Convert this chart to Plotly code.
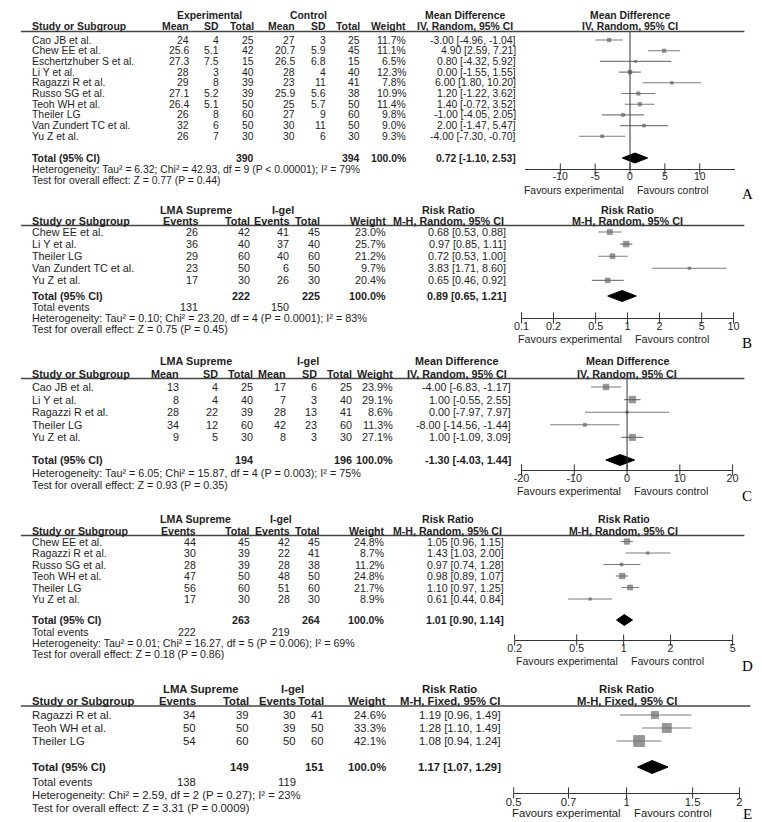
import math
import plotly.graph_objects as go

W, H = 762, 822

# ====================== DATA ======================
# Panel A - Mean Difference (Experimental vs Control)
A_studies = ["Cao JB et al.", "Chew EE et al.", "Eschertzhuber S et al.", "Li Y et al.",
             "Ragazzi R et al.", "Russo SG et al.", "Teoh WH et al.", "Theiler LG",
             "Van Zundert TC et al.", "Yu Z et al."]
A_mean_e = [24, 25.6, 27.3, 28, 29, 27.1, 26.4, 26, 32, 26]
A_sd_e = [4, 5.1, 7.5, 3, 8, 5.2, 5.1, 8, 6, 7]
A_n_e = [25, 42, 15, 40, 39, 39, 50, 60, 50, 30]
A_mean_c = [27, 20.7, 26.5, 28, 23, 25.9, 25, 27, 30, 30]
A_sd_c = [3, 5.9, 6.8, 4, 11, 5.6, 5.7, 9, 11, 6]
A_n_c = [25, 45, 15, 40, 41, 38, 50, 60, 50, 30]
A_weight = [11.7, 11.1, 6.5, 12.3, 7.8, 10.9, 11.4, 9.8, 9.0, 9.3]
A_est = [-3.00, 4.90, 0.80, 0.00, 6.00, 1.20, 1.40, -1.00, 2.00, -4.00]
A_lo = [-4.96, 2.59, -4.32, -1.55, 1.80, -1.22, -0.72, -4.05, -1.47, -7.30]
A_hi = [-1.04, 7.21, 5.92, 1.55, 10.20, 3.62, 3.52, 2.05, 5.47, -0.70]
A_total_n = [390, 394]
A_total = [0.72, -1.10, 2.53]
A_het = "Heterogeneity: Tau² = 6.32; Chi² = 42.93, df = 9 (P < 0.00001); I² = 79%"
A_test = "Test for overall effect: Z = 0.77 (P = 0.44)"
A_ticks = [-10, -5, 0, 5, 10]
A_range = [-15, 15]

# Panel B - Risk Ratio (LMA Supreme vs I-gel)
B_studies = ["Chew EE et al.", "Li Y et al.", "Theiler LG", "Van Zundert TC et al.", "Yu Z et al."]
B_ev_e = [26, 36, 29, 23, 17]
B_n_e = [42, 40, 60, 50, 30]
B_ev_c = [41, 37, 40, 6, 26]
B_n_c = [45, 40, 60, 50, 30]
B_weight = [23.0, 25.7, 21.2, 9.7, 20.4]
B_est = [0.68, 0.97, 0.72, 3.83, 0.65]
B_lo = [0.53, 0.85, 0.53, 1.71, 0.46]
B_hi = [0.88, 1.11, 1.00, 8.60, 0.92]
B_total_n = [222, 225]
B_total_events = [131, 150]
B_total = [0.89, 0.65, 1.21]
B_het = "Heterogeneity: Tau² = 0.10; Chi² = 23.20, df = 4 (P = 0.0001); I² = 83%"
B_test = "Test for overall effect: Z = 0.75 (P = 0.45)"
B_ticks = [0.1, 0.2, 0.5, 1, 2, 5, 10]
B_range = [0.1, 10]

# Panel C - Mean Difference (LMA Supreme vs I-gel)
C_studies = ["Cao JB et al.", "Li Y et al.", "Ragazzi R et al.", "Theiler LG", "Yu Z et al."]
C_mean_e = [13, 8, 28, 34, 9]
C_sd_e = [4, 4, 22, 12, 5]
C_n_e = [25, 40, 39, 60, 30]
C_mean_c = [17, 7, 28, 42, 8]
C_sd_c = [6, 3, 13, 23, 3]
C_n_c = [25, 40, 41, 60, 30]
C_weight = [23.9, 29.1, 8.6, 11.3, 27.1]
C_est = [-4.00, 1.00, 0.00, -8.00, 1.00]
C_lo = [-6.83, -0.55, -7.97, -14.56, -1.09]
C_hi = [-1.17, 2.55, 7.97, -1.44, 3.09]
C_total_n = [194, 196]
C_total = [-1.30, -4.03, 1.44]
C_het = "Heterogeneity: Tau² = 6.05; Chi² = 15.87, df = 4 (P = 0.003); I² = 75%"
C_test = "Test for overall effect: Z = 0.93 (P = 0.35)"
C_ticks = [-20, -10, 0, 10, 20]
C_range = [-20, 20]

# Panel D - Risk Ratio (LMA Supreme vs I-gel)
D_studies = ["Chew EE et al.", "Ragazzi R et al.", "Russo SG et al.", "Teoh WH et al.",
             "Theiler LG", "Yu Z et al."]
D_ev_e = [44, 30, 28, 47, 56, 17]
D_n_e = [45, 39, 39, 50, 60, 30]
D_ev_c = [42, 22, 28, 48, 51, 28]
D_n_c = [45, 41, 38, 50, 60, 30]
D_weight = [24.8, 8.7, 11.2, 24.8, 21.7, 8.9]
D_est = [1.05, 1.43, 0.97, 0.98, 1.10, 0.61]
D_lo = [0.96, 1.03, 0.74, 0.89, 0.97, 0.44]
D_hi = [1.15, 2.00, 1.28, 1.07, 1.25, 0.84]
D_total_n = [263, 264]
D_total_events = [222, 219]
D_total = [1.01, 0.90, 1.14]
D_het = "Heterogeneity: Tau² = 0.01; Chi² = 16.27, df = 5 (P = 0.006); I² = 69%"
D_test = "Test for overall effect: Z = 0.18 (P = 0.86)"
D_ticks = [0.2, 0.5, 1, 2, 5]
D_range = [0.2, 5]

# Panel E - Risk Ratio, fixed effect (LMA Supreme vs I-gel)
E_studies = ["Ragazzi R et al.", "Teoh WH et al.", "Theiler LG"]
E_ev_e = [34, 50, 54]
E_n_e = [39, 50, 60]
E_ev_c = [30, 39, 50]
E_n_c = [41, 50, 60]
E_weight = [24.6, 33.3, 42.1]
E_est = [1.19, 1.28, 1.08]
E_lo = [0.96, 1.10, 0.94]
E_hi = [1.49, 1.49, 1.24]
E_total_n = [149, 151]
E_total_events = [138, 119]
E_total = [1.17, 1.07, 1.29]
E_het = "Heterogeneity: Chi² = 2.59, df = 2 (P = 0.27); I² = 23%"
E_test = "Test for overall effect: Z = 3.31 (P = 0.0009)"
E_ticks = [0.5, 0.7, 1, 1.5, 2]
E_range = [0.5, 2]

# ====================== STYLE / LAYOUT ======================
FONT = "Liberation Sans, Arial, sans-serif"
SERIF = "Liberation Serif, Times New Roman, serif"
TXT = "#1e1e1e"
MD_HEADS = ["Mean", "SD", "Total", "Mean", "SD", "Total"]
RR_HEADS = ["Events", "Total", "Events", "Total"]

panels = [
    dict(ax="x", letter="A", log=False, groups=["Experimental", "Control"], heads=MD_HEADS,
         cols=[A_mean_e, A_sd_e, A_n_e, A_mean_c, A_sd_c, A_n_c], tot_idx=[2, 5],
         studies=A_studies, weight=A_weight, est=A_est, lo=A_lo, hi=A_hi,
         total_n=A_total_n, total=A_total, events=None, het=A_het, test=A_test,
         ticks=A_ticks, rng=A_range, measure="Mean Difference", method="IV, Random, 95% CI",
         fs=10.4, group_x=[197, 298], col_x=[177, 208, 243, 285, 317, 351], w_x=398,
         eff_x=510, eff_c=457, dom=[519, 732], line_x=[5, 742],
         hdr1=7, hdr2=18, uline=23.5, row0=32, step=10.7, tot=150, ev_y=None, het_y=161,
         test_y=172, axis=161, fav=182, let_y=186, msz=0.5, dia=5),
    dict(ax="x2", letter="B", log=True, groups=["LMA Supreme", "I-gel"], heads=RR_HEADS,
         cols=[B_ev_e, B_n_e, B_ev_c, B_n_c], tot_idx=[1, 3],
         studies=B_studies, weight=B_weight, est=B_est, lo=B_lo, hi=B_hi,
         total_n=B_total_n, total=B_total, events=B_total_events, het=B_het, test=B_test,
         ticks=B_ticks, rng=B_range, measure="Risk Ratio", method="M-H, Random, 95% CI",
         fs=10.8, group_x=[183, 272], col_x=[186, 239, 279, 311], w_x=378,
         eff_x=500, eff_c=441, dom=[515, 731], line_x=[5, 742],
         hdr1=202, hdr2=213, uline=217.5, row0=224, step=12.1, tot=288, ev_y=299, het_y=310,
         test_y=321, axis=310, fav=331, let_y=335, msz=0.42, dia=5.5),
    dict(ax="x3", letter="C", log=False, groups=["LMA Supreme", "I-gel"], heads=MD_HEADS,
         cols=[C_mean_e, C_sd_e, C_n_e, C_mean_c, C_sd_c, C_n_c], tot_idx=[2, 5],
         studies=C_studies, weight=C_weight, est=C_est, lo=C_lo, hi=C_hi,
         total_n=C_total_n, total=C_total, events=None, het=C_het, test=C_test,
         ticks=C_ticks, rng=C_range, measure="Mean Difference", method="IV, Random, 95% CI",
         fs=10.8, group_x=[183, 297], col_x=[167, 207, 242, 276, 308, 343], w_x=385,
         eff_x=505, eff_c=449, dom=[515, 730], line_x=[5, 742],
         hdr1=353, hdr2=366, uline=370.5, row0=379, step=12.6, tot=452, ev_y=None, het_y=464.5,
         test_y=477, axis=462, fav=483, let_y=488, msz=0.44, dia=5.5),
    dict(ax="x4", letter="D", log=True, groups=["LMA Supreme", "I-gel"], heads=RR_HEADS,
         cols=[D_ev_e, D_n_e, D_ev_c, D_n_c], tot_idx=[1, 3],
         studies=D_studies, weight=D_weight, est=D_est, lo=D_lo, hi=D_hi,
         total_n=D_total_n, total=D_total, events=D_total_events, het=D_het, test=D_test,
         ticks=D_ticks, rng=D_range, measure="Risk Ratio", method="M-H, Random, 95% CI",
         fs=10.6, group_x=[183, 270], col_x=[184, 239, 280, 311], w_x=377,
         eff_x=498, eff_c=440, dom=[508, 730], line_x=[5, 742],
         hdr1=511, hdr2=523, uline=527.5, row0=533.5, step=11.5, tot=612, ev_y=624, het_y=635,
         test_y=646, axis=632, fav=653, let_y=658, msz=0.42, dia=5.5),
    dict(ax="x5", letter="E", log=True, groups=["LMA Supreme", "I-gel"], heads=RR_HEADS,
         cols=[E_ev_e, E_n_e, E_ev_c, E_n_c], tot_idx=[1, 3],
         studies=E_studies, weight=E_weight, est=E_est, lo=E_lo, hi=E_hi,
         total_n=E_total_n, total=E_total, events=E_total_events, het=E_het, test=E_test,
         ticks=E_ticks, rng=E_range, measure="Risk Ratio", method="M-H, Fixed, 95% CI",
         fs=11.3, group_x=[188, 282], col_x=[184, 238, 286, 315], w_x=378,
         eff_x=495, eff_c=442, dom=[507, 737], line_x=[5, 748],
         hdr1=681, hdr2=693, uline=698, row0=707, step=13, tot=759, ev_y=774, het_y=787,
         test_y=800, axis=785, fav=805, let_y=806, msz=0.55, dia=6.5),
]

fig = go.Figure()
annotations = []
shapes = []
layout_axes = {}


def txt(x, y, s, anchor="left", size=10.8, bold=False, xref="paper", family=FONT,
        color=TXT, xshift=0, pad=0):
    annotations.append(dict(
        x=(x / W) if xref == "paper" else x, y=y, xref=xref, yref="y",
        text=f"<b>{s}</b>" if bold else s, showarrow=False, xanchor=anchor,
        yanchor="middle", xshift=xshift, borderpad=pad,
        font=dict(size=size, color=color, family=family)))


def ci_text(e, l, h):
    return f"{e:.2f} [{l:.2f}, {h:.2f}]"


for p in panels:
    ax = p["ax"]
    fs = p["fs"]
    axname = "xaxis" + ax[1:]
    # headers
    for g, gx in zip(p["groups"], p["group_x"]):
        txt(gx, p["hdr1"], g, "center", fs, True)
    txt(15, p["hdr2"], "Study or Subgroup", "left", fs, True)
    for hname, cx in zip(p["heads"], p["col_x"]):
        txt(cx, p["hdr2"], hname, "right", fs, True)
    txt(p["w_x"], p["hdr2"], "Weight", "right", fs, True)
    txt(p["eff_c"], p["hdr1"], p["measure"], "center", fs, True)
    txt(p["eff_c"], p["hdr2"], p["method"], "center", fs, True)
    txt(0, p["hdr1"], p["measure"], "center", fs, True, xref=ax)
    txt(0, p["hdr2"], p["method"], "center", fs, True, xref=ax)
    shapes.append(dict(type="line", xref="paper", yref="y", x0=p["line_x"][0] / W,
                       x1=p["line_x"][1] / W, y0=p["uline"], y1=p["uline"],
                       line=dict(color="#444", width=1.5)))

    # study rows
    ys = [p["row0"] + i * p["step"] for i in range(len(p["studies"]))]
    for i, s in enumerate(p["studies"]):
        txt(15, ys[i], s, "left", fs)
        for col, cx in zip(p["cols"], p["col_x"]):
            txt(cx, ys[i], f"{col[i]:g}", "right", fs)
        txt(p["w_x"], ys[i], f"{p['weight'][i]:.1f}%", "right", fs)
        txt(p["eff_x"], ys[i], ci_text(p["est"][i], p["lo"][i], p["hi"][i]), "right", fs)

    # totals
    txt(15, p["tot"], "Total (95% CI)", "left", fs, True)
    for k, idx in enumerate(p["tot_idx"]):
        txt(p["col_x"][idx], p["tot"], str(p["total_n"][k]), "right", fs, True)
    txt(p["w_x"], p["tot"], "100.0%", "right", fs, True)
    txt(p["eff_x"], p["tot"], ci_text(*p["total"]), "right", fs, True)
    if p["events"] is not None:
        txt(15, p["ev_y"], "Total events", "left", fs)
        txt(p["col_x"][0], p["ev_y"], str(p["events"][0]), "right", fs)
        txt(p["col_x"][2], p["ev_y"], str(p["events"][1]), "right", fs)
    txt(15, p["het_y"], p["het"], "left", fs)
    txt(15, p["test_y"], p["test"], "left", fs)

    # forest: study estimates (square size grows with weight)
    sizes = [p["msz"] * w ** 0.8 for w in p["weight"]]
    fig.add_trace(go.Scatter(
        x=p["est"], y=ys, xaxis=ax, yaxis="y", mode="markers",
        marker=dict(symbol="square", size=sizes, color="#6a6a6a",
                    line=dict(color="#4a4a4a", width=0.6)),
        error_x=dict(type="data", symmetric=False,
                     array=[h - e for h, e in zip(p["hi"], p["est"])],
                     arrayminus=[e - l for e, l in zip(p["est"], p["lo"])],
                     color="#7c7c7c", thickness=1.1, width=0),
        hoverinfo="skip", showlegend=False, cliponaxis=False))
    # pooled diamond
    te, tl, th = p["total"]
    d = p["dia"]
    fig.add_trace(go.Scatter(
        x=[tl, te, th, te, tl], y=[p["tot"], p["tot"] - d, p["tot"], p["tot"] + d, p["tot"]],
        xaxis=ax, yaxis="y", mode="lines", fill="toself", fillcolor="#000",
        line=dict(color="#000", width=1), hoverinfo="skip", showlegend=False))
    # tick marks crossing the axis line
    fig.add_trace(go.Scatter(
        x=p["ticks"], y=[p["axis"]] * len(p["ticks"]), xaxis=ax, yaxis="y", mode="markers",
        marker=dict(symbol="line-ns-open", size=8, color="#333",
                    line=dict(color="#333", width=1)),
        hoverinfo="skip", showlegend=False, cliponaxis=False))
    # null line
    shapes.append(dict(type="line", xref=ax, yref="y", x0=0, x1=0, y0=p["uline"],
                       y1=p["axis"], line=dict(color="#333", width=1)))
    # favours labels
    txt(0, p["fav"], "Favours experimental", "right", fs, xref=ax, xshift=-5)
    txt(0, p["fav"], "Favours control", "left", fs, xref=ax, xshift=6)
    # panel letter
    txt(745, p["let_y"], p["letter"], "center", 15, xref="paper", family=SERIF,
        color="#000", pad=2)

    rng = [math.log10(v) for v in p["rng"]] if p["log"] else p["rng"]
    layout_axes[axname] = dict(
        type="log" if p["log"] else "linear", range=rng,
        domain=[p["dom"][0] / W, p["dom"][1] / W], anchor="free",
        position=1 - p["axis"] / H, showline=True, linecolor="#333", linewidth=1,
        showgrid=False, zeroline=False, ticks="", tickvals=p["ticks"],
        ticktext=[f"{t:g}" for t in p["ticks"]], ticklabelstandoff=-2,
        tickfont=dict(size=fs, color=TXT, family=FONT), fixedrange=True)

fig.update_layout(
    width=W, height=H, autosize=False,
    margin=dict(l=0, r=0, t=0, b=0),
    paper_bgcolor="white", plot_bgcolor="rgba(0,0,0,0)",
    showlegend=False,
    yaxis=dict(range=[H, 0], domain=[0, 1], visible=False, fixedrange=True),
    annotations=annotations, shapes=shapes,
    **layout_axes)

fig.write_html("out.html")
